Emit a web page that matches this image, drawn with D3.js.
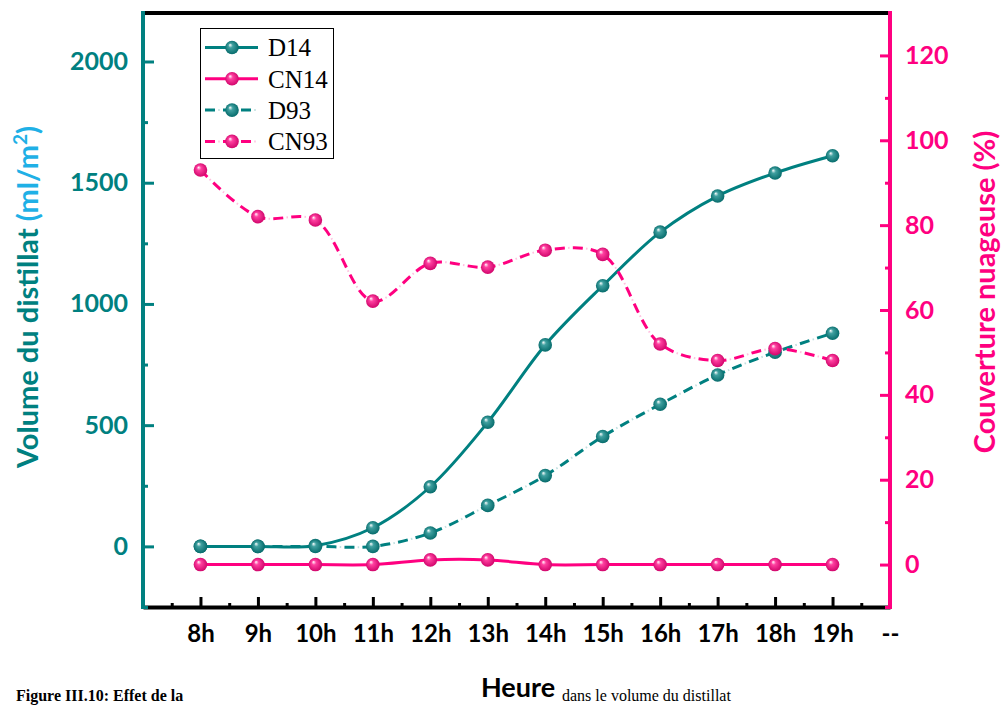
<!DOCTYPE html>
<html lang="fr">
<head>
<meta charset="UTF-8">
<title>Volume du distillat et couverture nuageuse</title>
<style>
  body { margin: 0; background: #fff; }
  svg { display: block; }
</style>
</head>
<body>
<script src="https://d3js.org/d3.v7.min.js"></script>
<div id="chart"></div>
<script>
// données
const hours = ["8h", "9h", "10h", "11h", "12h", "13h", "14h", "15h", "16h", "17h", "18h", "19h"];
const D14  = [0, 0, 3, 77, 246, 512, 831, 1075, 1296, 1445, 1540, 1611];
const D93  = [0, 0, 0, 0, 55, 169, 292, 453, 586, 707, 801, 879];
const CN14 = [0, 0, 0, 0, 1.1, 1.1, 0, 0, 0, 0, 0, 0];
const CN93 = [93.0, 82.0, 81.2, 62.1, 71.0, 70.1, 74.1, 73.1, 52.0, 48.1, 50.9, 48.1];
const leftTicks = [0, 500, 1000, 1500, 2000];
const rightTicks = [0, 20, 40, 60, 80, 100, 120];

const teal = "#008080", pink = "#ff0080", blue = "#1fb0e6";
const width = 1003, height = 707;
const plot = {left: 143, right: 890, top: 13, bottom: 607};

const svg = d3.select("#chart").append("svg").attr("width", width).attr("height", height);

// dégradés pour les billes
const defs = svg.append("defs");
function sphere(id, c) {
  const g = defs.append("radialGradient").attr("id", id)
    .attr("cx", "50%").attr("cy", "50%").attr("r", "55%").attr("fx", "35%").attr("fy", "30%");
  g.append("stop").attr("offset", "0%").attr("stop-color", "#ffffff");
  g.append("stop").attr("offset", "30%").attr("stop-color", d3.interpolateRgb(c, "#fff")(0.25));
  g.append("stop").attr("offset", "100%").attr("stop-color", d3.interpolateRgb(c, "#000")(0.2));
}
sphere("ballTeal", teal);
sphere("ballPink", pink);

// échelles
const x = d3.scaleLinear().domain([-1, 12]).range([plot.left, plot.right]);
const yL = d3.scaleLinear().domain([-250, 2200]).range([plot.bottom, plot.top]);
const yR = d3.scaleLinear().domain([-10, 130]).range([plot.bottom, plot.top]);

const fontSans = "Lato, 'Open Sans', sans-serif";

// axe x (ticks mineurs puis majeurs)
svg.append("g").attr("transform", `translate(0,${plot.bottom})`)
  .call(d3.axisBottom(x).tickValues(d3.range(-0.5, 12, 1)).tickSize(-4).tickSizeOuter(0).tickFormat(""))
  .call(g => g.select(".domain").remove())
  .call(g => g.selectAll("line").attr("stroke", "#000").attr("stroke-width", 3));

const gx = svg.append("g").attr("transform", `translate(0,${plot.bottom})`)
  .call(d3.axisBottom(x).tickValues(d3.range(0, 13)).tickSize(-10).tickSizeOuter(0).tickPadding(18)
    .tickFormat(i => i < hours.length ? hours[i] : "--"));
gx.select(".domain").attr("stroke", "#000").attr("stroke-width", 4);
gx.selectAll("line").attr("stroke", "#000").attr("stroke-width", 3);
gx.selectAll("text").attr("fill", "#000").style("font-family", fontSans)
  .style("font-size", "24px").style("font-weight", "bold");

// axe gauche
svg.append("g").attr("transform", `translate(${plot.left},0)`)
  .call(d3.axisLeft(yL).tickValues(d3.range(-250, 2200, 500)).tickSize(-5).tickSizeOuter(0).tickFormat(""))
  .call(g => g.select(".domain").remove())
  .call(g => g.selectAll("line").attr("stroke", teal).attr("stroke-width", 3));
const gl = svg.append("g").attr("transform", `translate(${plot.left},0)`)
  .call(d3.axisLeft(yL).tickValues(leftTicks).tickSize(-11).tickSizeOuter(0).tickPadding(15)
    .tickFormat(d3.format("d")));
gl.selectAll("line").attr("stroke", teal).attr("stroke-width", 3);
gl.selectAll("text").attr("fill", teal).style("font-family", fontSans)
  .style("font-size", "25px").style("font-weight", "bold");
gl.select(".domain").remove();

// axe droit
svg.append("g").attr("transform", `translate(${plot.right},0)`)
  .call(d3.axisRight(yR).tickValues(d3.range(-10, 130, 20)).tickSize(-5).tickSizeOuter(0).tickFormat(""))
  .call(g => g.select(".domain").remove())
  .call(g => g.selectAll("line").attr("stroke", pink).attr("stroke-width", 3));
const gr = svg.append("g").attr("transform", `translate(${plot.right},0)`)
  .call(d3.axisRight(yR).tickValues(rightTicks).tickSize(-10).tickSizeOuter(0).tickPadding(15)
    .tickFormat(d3.format("d")));
gr.selectAll("line").attr("stroke", pink).attr("stroke-width", 3);
gr.selectAll("text").attr("fill", pink).style("font-family", fontSans)
  .style("font-size", "25px").style("font-weight", "bold");
gr.select(".domain").remove();

// cadre
svg.append("line").attr("x1", plot.left).attr("x2", plot.right).attr("y1", plot.top).attr("y2", plot.top)
  .attr("stroke", "#000").attr("stroke-width", 4);
svg.append("line").attr("x1", plot.left).attr("x2", plot.left).attr("y1", plot.top - 2).attr("y2", plot.bottom + 2)
  .attr("stroke", teal).attr("stroke-width", 4);
svg.append("line").attr("x1", plot.right).attr("x2", plot.right).attr("y1", plot.top - 2).attr("y2", plot.bottom + 2)
  .attr("stroke", pink).attr("stroke-width", 4);

// séries
const series = [
  {name: "D14", data: D14, y: yL, color: teal, ball: "ballTeal", dashed: false},
  {name: "D93", data: D93, y: yL, color: teal, ball: "ballTeal", dashed: true},
  {name: "CN14", data: CN14, y: yR, color: pink, ball: "ballPink", dashed: false},
  {name: "CN93", data: CN93, y: yR, color: pink, ball: "ballPink", dashed: true}
];

function drawLine(g, d, s) {
  if (s.dashed) {
    g.append("path").attr("d", d).attr("fill", "none").attr("stroke", s.color)
      .attr("stroke-width", 3).attr("stroke-dasharray", "10,8");
    g.append("path").attr("d", d).attr("fill", "none").attr("stroke", s.color).attr("opacity", 0.25)
      .attr("stroke-width", 2).attr("stroke-dasharray", "1.5,16.5").attr("stroke-dashoffset", -13.25);
  } else {
    g.append("path").attr("d", d).attr("fill", "none").attr("stroke", s.color).attr("stroke-width", 3);
  }
}

series.forEach(s => {
  const line = d3.line().curve(d3.curveCatmullRom.alpha(0.5)).x((v, i) => x(i)).y(v => s.y(v));
  const g = svg.append("g");
  drawLine(g, line(s.data), s);
  g.selectAll("circle").data(s.data).join("circle")
    .attr("cx", (v, i) => x(i)).attr("cy", v => s.y(v)).attr("r", 6.8)
    .attr("fill", `url(#${s.ball})`);
});

// légende
const legend = svg.append("g");
legend.append("rect").attr("x", 200.5).attr("y", 28.5).attr("width", 133).attr("height", 130)
  .attr("fill", "#fff").attr("stroke", "#000").attr("stroke-width", 1);
const legendOrder = ["D14", "CN14", "D93", "CN93"];
legendOrder.forEach((n, k) => {
  const s = series.find(d => d.name === n);
  const yy = 47.5 + k * 31.3;
  const g = legend.append("g");
  drawLine(g, `M205,${yy}H258`, s);
  g.append("circle").attr("cx", 232).attr("cy", yy).attr("r", 6.8).attr("fill", `url(#${s.ball})`);
  g.append("text").attr("x", 268).attr("y", yy).attr("dy", "0.35em")
    .style("font-family", "'Liberation Serif', 'Times New Roman', serif").style("font-size", "25px")
    .attr("fill", "#000").text(n);
});

// titres des axes
const tl = svg.append("text").attr("transform", "translate(38,297) rotate(-90)")
  .attr("text-anchor", "middle").style("font-family", fontSans)
  .style("font-size", "29px").style("font-weight", "bold");
tl.append("tspan").attr("fill", teal).text("Volume du distillat ");
tl.append("tspan").attr("fill", blue).text("(ml/m");
tl.append("tspan").attr("fill", blue).attr("dy", -11).style("font-size", "19px").text("2");
tl.append("tspan").attr("fill", blue).attr("dy", 11).text(")");

svg.append("text").attr("transform", "translate(995,292) rotate(-90)")
  .attr("text-anchor", "middle").style("font-family", fontSans)
  .style("font-size", "29px").style("font-weight", "bold").attr("fill", pink)
  .text("Couverture nuageuse (%)");

svg.append("text").attr("x", 518).attr("y", 697).attr("text-anchor", "middle")
  .style("font-family", fontSans).style("font-size", "27px").style("font-weight", "bold")
  .attr("fill", "#000").text("Heure");

// légende de la figure (en bas, partiellement masquée sur l'original)
const cap = svg.append("g").style("font-family", "'Liberation Serif', 'Times New Roman', serif")
  .style("font-size", "16px").style("font-weight", "bold").attr("fill", "#000");
cap.append("text").attr("x", 16).attr("y", 701).text("Figure III.10: Effet de la");
cap.append("text").attr("x", 562).attr("y", 701).style("font-weight", "normal")
  .text("dans le volume du distillat");
</script>
</body>
</html>
